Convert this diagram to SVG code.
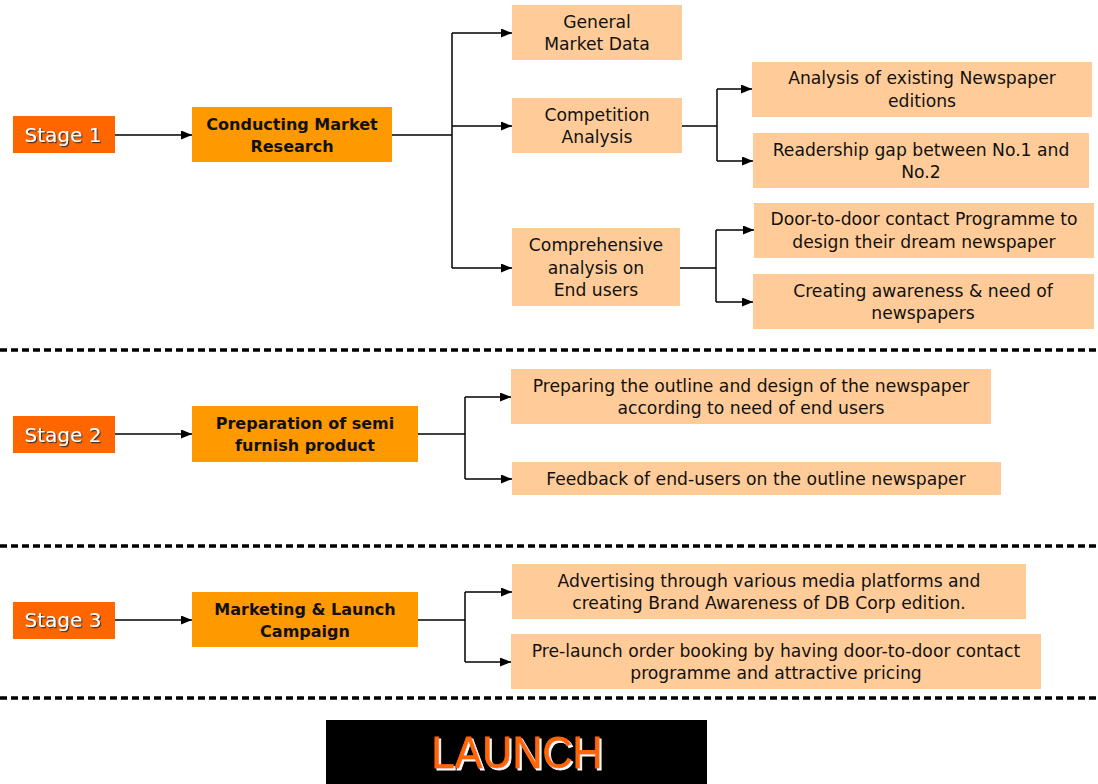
<svg xmlns="http://www.w3.org/2000/svg" width="1098" height="784" viewBox="0 0 1098 784">
  <style>
    .stage { fill: #FF6600; }
    .main { fill: #FF9900; }
    .sub { fill: #FFCC99; }
    .t { font-family: "DejaVu Sans", "Liberation Sans", sans-serif; font-size: 17.2px; fill: #111; text-anchor: middle; dominant-baseline: central; }
    .tb { font-weight: bold; font-size: 16px; }
    .st { font-family: "DejaVu Sans", "Liberation Sans", sans-serif; font-size: 20px; fill: #fff; text-anchor: middle; dominant-baseline: central; filter: url(#darkShadow); }
    .wire { fill: none; stroke: #000; stroke-width: 1.5; }
    .arr { marker-end: url(#head); }
    .sep { stroke: #000; stroke-width: 3.5; stroke-dasharray: 7 4; }
  </style>
  <defs>
    <marker id="head" viewBox="0 0 11 9" refX="11" refY="4.5" markerWidth="11" markerHeight="9" markerUnits="userSpaceOnUse" orient="auto">
      <path d="M0,0 L11,4.5 L0,9 Z" fill="#000"/>
    </marker>
    <filter id="darkShadow" x="-10%" y="-20%" width="130%" height="150%">
      <feDropShadow dx="1.2" dy="1.2" stdDeviation="0" flood-color="#333"/>
    </filter>
    <filter id="lightShadow" x="-10%" y="-20%" width="130%" height="150%">
      <feDropShadow dx="2" dy="2" stdDeviation="0" flood-color="#fff"/>
    </filter>
  </defs>

  <!-- connectors -->
  <g id="connectors">
    <line class="wire arr" x1="115" y1="135" x2="192" y2="135"/>
    <line class="wire" x1="392" y1="135" x2="452" y2="135"/>
    <line class="wire" x1="452" y1="33" x2="452" y2="268"/>
    <line class="wire arr" x1="452" y1="33" x2="512" y2="33"/>
    <line class="wire arr" x1="452" y1="126" x2="512" y2="126"/>
    <line class="wire arr" x1="452" y1="268" x2="512" y2="268"/>

    <line class="wire" x1="682" y1="126" x2="717" y2="126"/>
    <line class="wire" x1="717" y1="89" x2="717" y2="161"/>
    <line class="wire arr" x1="717" y1="89" x2="752" y2="89"/>
    <line class="wire arr" x1="717" y1="161" x2="753" y2="161"/>

    <line class="wire" x1="680" y1="268" x2="716" y2="268"/>
    <line class="wire" x1="716" y1="230" x2="716" y2="302"/>
    <line class="wire arr" x1="716" y1="230" x2="754" y2="230"/>
    <line class="wire arr" x1="716" y1="302" x2="753" y2="302"/>

    <line class="wire arr" x1="115" y1="434" x2="192" y2="434"/>
    <line class="wire" x1="418" y1="434" x2="465" y2="434"/>
    <line class="wire" x1="465" y1="397" x2="465" y2="479"/>
    <line class="wire arr" x1="465" y1="397" x2="511" y2="397"/>
    <line class="wire arr" x1="465" y1="479" x2="512" y2="479"/>

    <line class="wire arr" x1="115" y1="620" x2="192" y2="620"/>
    <line class="wire" x1="418" y1="620" x2="465" y2="620"/>
    <line class="wire" x1="465" y1="592" x2="465" y2="662"/>
    <line class="wire arr" x1="465" y1="592" x2="512" y2="592"/>
    <line class="wire arr" x1="465" y1="662" x2="511" y2="662"/>
  </g>

  <!-- stage separators -->
  <g id="separators">
    <line class="sep" x1="0" y1="350" x2="1098" y2="350"/>
    <line class="sep" x1="0" y1="546" x2="1098" y2="546"/>
    <line class="sep" x1="0" y1="698" x2="1098" y2="698"/>
  </g>

  <!-- stage 1 -->
  <g id="stage1">
    <rect class="stage" x="13" y="116" width="102" height="37"/>
    <text class="st" x="63" y="135">Stage 1</text>
  </g>
  <g id="market-research">
    <rect class="main" x="192" y="107" width="200" height="55"/>
    <text class="t tb" x="292" y="124">Conducting Market</text>
    <text class="t tb" x="292" y="146">Research</text>
  </g>
  <g id="general-market-data">
    <rect class="sub" x="512" y="5" width="170" height="55"/>
    <text class="t" x="597" y="22">General</text>
    <text class="t" x="597" y="44">Market Data</text>
  </g>
  <g id="competition-analysis">
    <rect class="sub" x="512" y="98" width="170" height="55"/>
    <text class="t" x="597" y="115">Competition</text>
    <text class="t" x="597" y="137">Analysis</text>
  </g>
  <g id="end-user-analysis">
    <rect class="sub" x="512" y="228" width="168" height="78"/>
    <text class="t" x="596" y="245">Comprehensive</text>
    <text class="t" x="596" y="268">analysis on</text>
    <text class="t" x="596" y="290">End users</text>
  </g>
  <g id="existing-editions">
    <rect class="sub" x="752" y="62" width="340" height="55"/>
    <text class="t" x="922" y="78">Analysis of existing Newspaper</text>
    <text class="t" x="922" y="101">editions</text>
  </g>
  <g id="readership-gap">
    <rect class="sub" x="753" y="133" width="336" height="55"/>
    <text class="t" x="921" y="150">Readership gap between No.1 and</text>
    <text class="t" x="921" y="172">No.2</text>
  </g>
  <g id="door-to-door">
    <rect class="sub" x="754" y="203" width="340" height="55"/>
    <text class="t" x="924" y="219">Door-to-door contact Programme to</text>
    <text class="t" x="924" y="242">design their dream newspaper</text>
  </g>
  <g id="awareness">
    <rect class="sub" x="753" y="274" width="341" height="55"/>
    <text class="t" x="923" y="291">Creating awareness &amp; need of</text>
    <text class="t" x="923" y="313">newspapers</text>
  </g>

  <!-- stage 2 -->
  <g id="stage2">
    <rect class="stage" x="13" y="416" width="102" height="37"/>
    <text class="st" x="63" y="435">Stage 2</text>
  </g>
  <g id="semi-furnish">
    <rect class="main" x="192" y="406" width="226" height="56"/>
    <text class="t tb" x="305" y="423">Preparation of semi</text>
    <text class="t tb" x="305" y="445">furnish product</text>
  </g>
  <g id="outline-design">
    <rect class="sub" x="511" y="369" width="480" height="55"/>
    <text class="t" x="751" y="386">Preparing the outline and design of the newspaper</text>
    <text class="t" x="751" y="408">according to need of end users</text>
  </g>
  <g id="feedback">
    <rect class="sub" x="512" y="462" width="489" height="33"/>
    <text class="t" x="756" y="479">Feedback of end-users on the outline newspaper</text>
  </g>

  <!-- stage 3 -->
  <g id="stage3">
    <rect class="stage" x="13" y="602" width="102" height="37"/>
    <text class="st" x="63" y="620">Stage 3</text>
  </g>
  <g id="marketing">
    <rect class="main" x="192" y="592" width="226" height="55"/>
    <text class="t tb" x="305" y="609">Marketing &amp; Launch</text>
    <text class="t tb" x="305" y="631">Campaign</text>
  </g>
  <g id="advertising">
    <rect class="sub" x="512" y="564" width="514" height="55"/>
    <text class="t" x="769" y="581">Advertising through various media platforms and</text>
    <text class="t" x="769" y="603">creating Brand Awareness of DB Corp edition.</text>
  </g>
  <g id="pre-launch">
    <rect class="sub" x="511" y="634" width="530" height="55"/>
    <text class="t" x="776" y="651">Pre-launch order booking by having door-to-door contact</text>
    <text class="t" x="776" y="673">programme and attractive pricing</text>
  </g>

  <!-- launch banner -->
  <g id="launch">
    <rect x="326" y="720" width="381" height="64" fill="#000"/>
    <text x="517" y="768" font-family="'Liberation Sans', Arial, sans-serif" font-size="45" fill="#FF6600" stroke="#FF6600" stroke-width="0.8" text-anchor="middle" textLength="171" lengthAdjust="spacingAndGlyphs" filter="url(#lightShadow)">LAUNCH</text>
  </g>
</svg>
